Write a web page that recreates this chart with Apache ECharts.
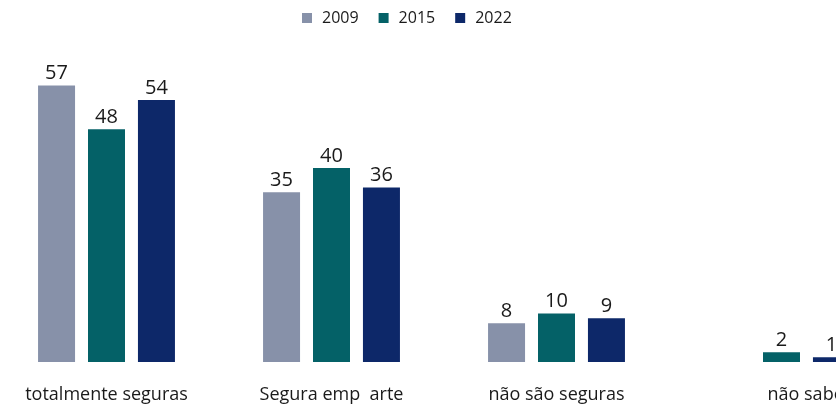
<!DOCTYPE html>
<html>
<head>
<meta charset="utf-8">
<script src="https://cdn.jsdelivr.net/npm/echarts@6/dist/echarts.min.js"></script>
<style>
  html, body { margin: 0; padding: 0; background: #fff; }
  #chart { width: 836px; height: 405px; }
</style>
</head>
<body>
<div id="chart"></div>
<script>
const categories = ['totalmente seguras', 'Segura emp  arte', 'não são seguras', 'não sabe/não respondeu']
const years = ['2009', '2015', '2022']
const values2009 = [57, 35, 8, '-']
const values2015 = [48, 40, 10, 2]
const values2022 = [54, 36, 9, 1]
const colors = ['#8791a9', '#046167', '#0d2869']

const chart = echarts.init(document.getElementById('chart'))

const makeSeries = (name, data, color) => ({
  name,
  type: 'bar',
  data,
  barWidth: 37,
  barGap: '35%',
  itemStyle: { color },
  label: {
    show: true,
    position: 'top',
    distance: 2,
    color: '#1a1a1a',
    fontSize: 20,
    fontFamily: 'Open Sans'
  }
})

chart.setOption({
  animation: false,
  textStyle: { fontFamily: 'Open Sans' },
  legend: {
    top: 5,
    left: 297,
    itemWidth: 10,
    itemHeight: 10,
    itemGap: 20,
    icon: 'rect',
    textStyle: { fontSize: 16, color: '#1a1a1a', padding: [0, 0, 0, 5] },
    data: years
  },
  grid: {
    left: -6,
    right: -58,
    top: 71,
    bottom: 43,
    containLabel: false,
    outerBoundsMode: 'none'
  },
  xAxis: {
    type: 'category',
    data: categories.map((c, i) => i === 3
      ? { value: c, textStyle: { align: 'left', padding: [0, 0, 0, -14] } }
      : c),
    axisLine: { show: false },
    axisTick: { show: false },
    axisLabel: {
      margin: 24,
      fontSize: 18,
      color: '#1a1a1a',
      interval: 0
    }
  },
  yAxis: {
    type: 'value',
    min: 0,
    max: 60,
    show: false
  },
  series: [
    makeSeries(years[0], values2009, colors[0]),
    makeSeries(years[1], values2015, colors[1]),
    makeSeries(years[2], values2022, colors[2])
  ]
})
</script>
</body>
</html>
